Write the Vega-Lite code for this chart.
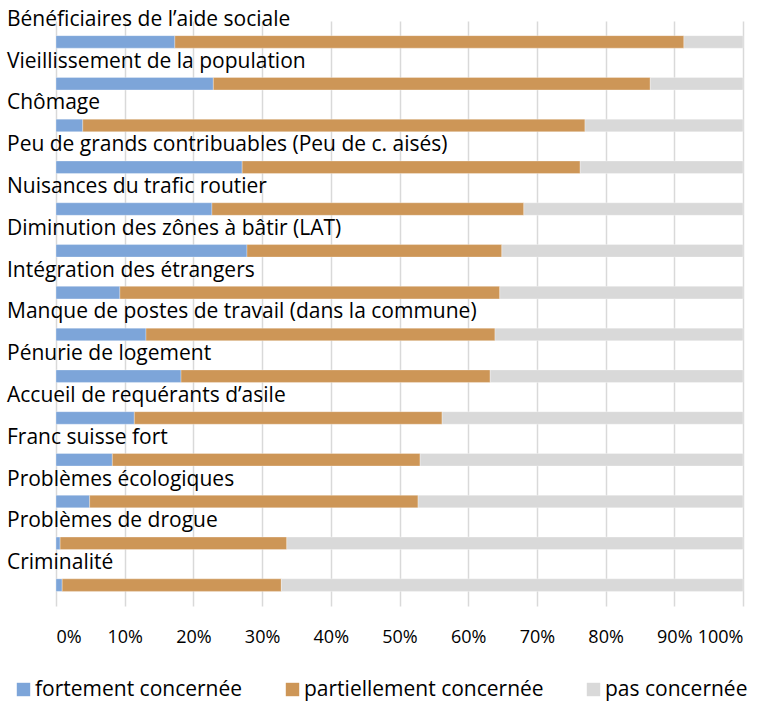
{
  "$schema": "https://vega.github.io/schema/vega-lite/v6.json",
  "width": 687,
  "height": 585,
  "autosize": {"type": "none"},
  "padding": {"left": 56, "top": 21, "right": 30, "bottom": 95},
  "background": "white",
  "config": {"view": {"stroke": null}, "font": "Open Sans"},
  "data": {"values": [
    {"cat": "Bénéficiaires de l’aide sociale", "series": "fortement concernée", "o": 1, "v": 17.3},
    {"cat": "Bénéficiaires de l’aide sociale", "series": "partiellement concernée", "o": 2, "v": 74.1},
    {"cat": "Bénéficiaires de l’aide sociale", "series": "pas concernée", "o": 3, "v": 8.6},
    {"cat": "Vieillissement de la population", "series": "fortement concernée", "o": 1, "v": 22.9},
    {"cat": "Vieillissement de la population", "series": "partiellement concernée", "o": 2, "v": 63.6},
    {"cat": "Vieillissement de la population", "series": "pas concernée", "o": 3, "v": 13.5},
    {"cat": "Chômage", "series": "fortement concernée", "o": 1, "v": 3.9},
    {"cat": "Chômage", "series": "partiellement concernée", "o": 2, "v": 73.1},
    {"cat": "Chômage", "series": "pas concernée", "o": 3, "v": 23.0},
    {"cat": "Peu de grands contribuables (Peu de c. aisés)", "series": "fortement concernée", "o": 1, "v": 27.1},
    {"cat": "Peu de grands contribuables (Peu de c. aisés)", "series": "partiellement concernée", "o": 2, "v": 49.2},
    {"cat": "Peu de grands contribuables (Peu de c. aisés)", "series": "pas concernée", "o": 3, "v": 23.7},
    {"cat": "Nuisances du trafic routier", "series": "fortement concernée", "o": 1, "v": 22.7},
    {"cat": "Nuisances du trafic routier", "series": "partiellement concernée", "o": 2, "v": 45.4},
    {"cat": "Nuisances du trafic routier", "series": "pas concernée", "o": 3, "v": 31.9},
    {"cat": "Diminution des zônes à bâtir (LAT)", "series": "fortement concernée", "o": 1, "v": 27.8},
    {"cat": "Diminution des zônes à bâtir (LAT)", "series": "partiellement concernée", "o": 2, "v": 37.1},
    {"cat": "Diminution des zônes à bâtir (LAT)", "series": "pas concernée", "o": 3, "v": 35.1},
    {"cat": "Intégration des étrangers", "series": "fortement concernée", "o": 1, "v": 9.3},
    {"cat": "Intégration des étrangers", "series": "partiellement concernée", "o": 2, "v": 55.3},
    {"cat": "Intégration des étrangers", "series": "pas concernée", "o": 3, "v": 35.4},
    {"cat": "Manque de postes de travail (dans la commune)", "series": "fortement concernée", "o": 1, "v": 13.1},
    {"cat": "Manque de postes de travail (dans la commune)", "series": "partiellement concernée", "o": 2, "v": 50.8},
    {"cat": "Manque de postes de travail (dans la commune)", "series": "pas concernée", "o": 3, "v": 36.1},
    {"cat": "Pénurie de logement", "series": "fortement concernée", "o": 1, "v": 18.2},
    {"cat": "Pénurie de logement", "series": "partiellement concernée", "o": 2, "v": 45.0},
    {"cat": "Pénurie de logement", "series": "pas concernée", "o": 3, "v": 36.8},
    {"cat": "Accueil de requérants d’asile", "series": "fortement concernée", "o": 1, "v": 11.4},
    {"cat": "Accueil de requérants d’asile", "series": "partiellement concernée", "o": 2, "v": 44.8},
    {"cat": "Accueil de requérants d’asile", "series": "pas concernée", "o": 3, "v": 43.8},
    {"cat": "Franc suisse fort", "series": "fortement concernée", "o": 1, "v": 8.2},
    {"cat": "Franc suisse fort", "series": "partiellement concernée", "o": 2, "v": 44.8},
    {"cat": "Franc suisse fort", "series": "pas concernée", "o": 3, "v": 47.0},
    {"cat": "Problèmes écologiques", "series": "fortement concernée", "o": 1, "v": 4.9},
    {"cat": "Problèmes écologiques", "series": "partiellement concernée", "o": 2, "v": 47.8},
    {"cat": "Problèmes écologiques", "series": "pas concernée", "o": 3, "v": 47.3},
    {"cat": "Problèmes de drogue", "series": "fortement concernée", "o": 1, "v": 0.6},
    {"cat": "Problèmes de drogue", "series": "partiellement concernée", "o": 2, "v": 33.0},
    {"cat": "Problèmes de drogue", "series": "pas concernée", "o": 3, "v": 66.4},
    {"cat": "Criminalité", "series": "fortement concernée", "o": 1, "v": 0.9},
    {"cat": "Criminalité", "series": "partiellement concernée", "o": 2, "v": 31.9},
    {"cat": "Criminalité", "series": "pas concernée", "o": 3, "v": 67.2}
  ]},
  "encoding": {
    "y": {"field": "cat", "type": "nominal", "sort": null, "axis": null,
          "scale": {"paddingInner": 0.7, "paddingOuter": 0.35}}
  },
  "layer": [
    {
      "mark": {"type": "bar", "stroke": "white", "strokeWidth": 0.5, "strokeOpacity": 0.6},
      "encoding": {
        "x": {"field": "v", "type": "quantitative", "stack": "zero",
              "scale": {"domain": [0, 100], "nice": false},
              "axis": {"values": [0,10,20,30,40,50,60,70,80,90,100], "labelExpr": "datum.value + '%'",
                       "title": null, "domain": false, "ticks": false, "grid": true,
                       "gridColor": "#D9D9D9", "gridWidth": 1.5, "labelOverlap": false, "labelBound": false,
                       "labelFontSize": 18, "labelColor": "#000000", "labelPadding": 22, "labelFont": "Open Sans"}},
        "color": {"field": "series", "type": "nominal",
                  "scale": {"domain": ["fortement concernée", "partiellement concernée", "pas concernée"],
                            "range": ["#7DA5D9", "#CD9657", "#D9D9D9"]},
                  "legend": {"title": null, "orient": "none", "direction": "horizontal",
                             "legendX": -43, "legendY": 658, "gridAlign": "none", "columnPadding": 39,
                             "symbolType": "square", "symbolSize": 180, "symbolStrokeWidth": 0,
                             "symbolOffset": 0, "labelOffset": 1,
                             "labelFontSize": 21, "labelColor": "#000000", "labelFont": "Open Sans", "labelLimit": 400}},
        "order": {"field": "o", "type": "quantitative"}
      }
    },
    {
      "transform": [{"filter": "datum.o == 1"}],
      "mark": {"type": "text", "align": "left", "baseline": "alphabetic", "dx": -49, "dy": -16,
               "fontSize": 21, "font": "Open Sans", "color": "#000000"},
      "encoding": {
        "x": {"datum": 0},
        "text": {"field": "cat"}
      }
    }
  ]
}
